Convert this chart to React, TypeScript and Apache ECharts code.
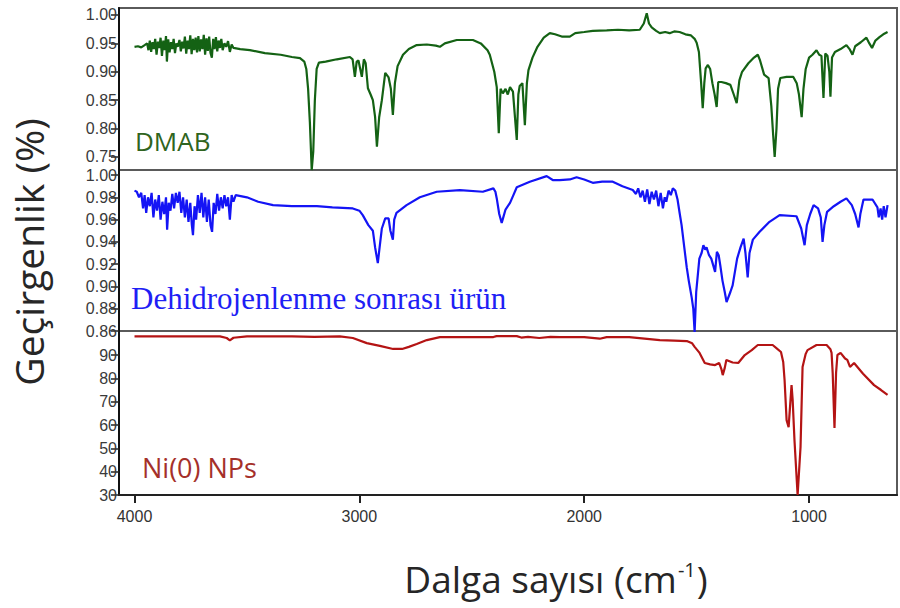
import React, { useEffect, useRef } from "react";
import * as echarts from "echarts";

// ---------- data (wavenumber cm-1, transmittance) ----------
const xTicks = [1000, 2000, 3000, 4000];
const topTicks = [0.75, 0.8, 0.85, 0.9, 0.95, 1.0];
const midTicks = [0.86, 0.88, 0.9, 0.92, 0.94, 0.96, 0.98, 1.0];
const botTicks = [30, 40, 50, 60, 70, 80, 90];

const seriesNames = ["DMAB", "Dehidrojenlenme sonrası ürün", "Ni(0) NPs"];

const dmab: number[][] = [
  [4000,0.944],[3985,0.945],[3970,0.943],[3955,0.947],
  [3944,0.950],[3938,0.938],[3932,0.955],[3926,0.935],[3920,0.952],[3914,0.940],[3908,0.958],[3902,0.930],[3896,0.953],[3890,0.942],[3884,0.960],[3878,0.928],[3872,0.955],[3866,0.938],[3860,0.963],[3856,0.918],[3850,0.957],[3844,0.934],[3838,0.952],[3832,0.940],[3826,0.958],[3820,0.933],[3814,0.950],[3808,0.944],[3800,0.956],[3794,0.936],[3788,0.953],[3782,0.941],[3776,0.962],[3770,0.932],[3764,0.955],[3758,0.940],[3752,0.964],[3746,0.931],[3740,0.958],[3734,0.938],[3728,0.960],[3722,0.934],[3716,0.963],[3710,0.936],[3704,0.957],[3698,0.940],[3692,0.965],[3686,0.930],[3680,0.959],[3674,0.937],[3668,0.962],[3662,0.933],[3656,0.925],[3650,0.958],[3644,0.940],[3638,0.961],[3632,0.936],[3626,0.955],[3620,0.942],[3614,0.958],[3608,0.938],[3600,0.950],[3592,0.944],[3584,0.954],[3576,0.935],[3568,0.948],[3560,0.942],
  [3530,0.940],[3487,0.938],[3420,0.933],[3350,0.930],[3300,0.926],[3264,0.924],[3245,0.918],[3236,0.905],[3228,0.870],[3220,0.810],[3212,0.727],[3205,0.760],[3198,0.850],[3190,0.905],[3180,0.916],[3150,0.918],[3100,0.922],[3042,0.926],[3030,0.922],[3020,0.891],[3012,0.918],[3004,0.920],[2989,0.891],[2980,0.922],[2972,0.915],[2962,0.871],[2950,0.860],[2940,0.850],[2930,0.820],[2922,0.768],[2912,0.820],[2900,0.850],[2885,0.898],[2870,0.890],[2860,0.870],[2851,0.824],[2842,0.880],[2830,0.910],[2806,0.930],[2780,0.940],[2745,0.947],[2700,0.948],[2660,0.946],[2642,0.944],[2620,0.950],[2567,0.956],[2495,0.956],[2460,0.950],[2430,0.938],[2420,0.930],[2400,0.900],[2389,0.873],[2380,0.792],[2372,0.870],[2362,0.862],[2350,0.870],[2340,0.860],[2330,0.873],[2317,0.865],[2300,0.780],[2293,0.860],[2287,0.875],[2275,0.880],[2264,0.806],[2255,0.880],[2248,0.903],[2230,0.925],[2208,0.944],[2180,0.960],[2153,0.968],[2130,0.966],[2100,0.962],[2064,0.962],[2040,0.968],[2000,0.970],[1962,0.972],[1900,0.973],[1850,0.974],[1800,0.973],[1753,0.974],[1735,0.985],[1722,1.003],[1712,0.985],[1700,0.978],[1680,0.972],[1664,0.968],[1640,0.970],[1620,0.968],[1600,0.971],[1576,0.970],[1550,0.966],[1525,0.964],[1509,0.958],[1500,0.951],[1490,0.935],[1480,0.880],[1473,0.836],[1466,0.880],[1460,0.906],[1450,0.912],[1440,0.905],[1430,0.880],[1420,0.860],[1411,0.838],[1404,0.882],[1390,0.882],[1370,0.880],[1350,0.877],[1335,0.860],[1322,0.845],[1310,0.885],[1298,0.900],[1270,0.915],[1245,0.925],[1228,0.930],[1218,0.920],[1200,0.895],[1180,0.889],[1168,0.840],[1160,0.790],[1153,0.750],[1145,0.800],[1138,0.870],[1128,0.889],[1100,0.891],[1070,0.891],[1055,0.880],[1045,0.860],[1033,0.820],[1025,0.870],[1015,0.905],[1000,0.925],[985,0.930],[967,0.938],[955,0.930],[945,0.928],[936,0.854],[928,0.932],[918,0.928],[910,0.900],[905,0.856],[898,0.925],[885,0.935],[860,0.940],[834,0.947],[820,0.940],[807,0.930],[795,0.945],[770,0.952],[745,0.960],[732,0.950],[720,0.942],[705,0.955],[687,0.961],[670,0.966],[651,0.970]
];

const product: number[][] = [
  [4000,0.986],[3990,0.985],[3980,0.980],
  [3970,0.984],[3962,0.970],[3955,0.982],[3948,0.966],[3940,0.980],[3932,0.972],[3924,0.984],[3916,0.962],[3908,0.978],[3900,0.968],[3892,0.982],[3884,0.960],[3876,0.976],[3868,0.965],[3860,0.980],[3855,0.951],[3848,0.975],[3840,0.968],[3832,0.983],[3824,0.970],[3816,0.984],[3808,0.975],[3800,0.985],[3792,0.966],[3784,0.980],[3776,0.962],[3768,0.978],[3760,0.958],[3752,0.975],[3745,0.955],[3740,0.946],[3733,0.972],[3726,0.960],[3718,0.982],[3710,0.966],[3702,0.984],[3694,0.962],[3686,0.980],[3678,0.958],[3670,0.978],[3662,0.955],[3655,0.949],[3648,0.975],[3640,0.965],[3632,0.983],[3624,0.968],[3616,0.980],[3608,0.970],[3600,0.982],[3592,0.972],[3584,0.980],[3576,0.960],[3568,0.982],[3560,0.976],[3550,0.982],
  [3500,0.980],[3450,0.976],[3384,0.973],[3300,0.972],[3189,0.972],[3120,0.971],[3029,0.970],[3000,0.968],[2985,0.964],[2960,0.955],[2940,0.950],[2930,0.935],[2918,0.921],[2910,0.935],[2900,0.952],[2885,0.961],[2870,0.961],[2862,0.950],[2851,0.942],[2845,0.960],[2835,0.966],[2790,0.973],[2731,0.980],[2656,0.985],[2553,0.9865],[2451,0.985],[2404,0.988],[2395,0.985],[2389,0.979],[2378,0.965],[2367,0.957],[2360,0.962],[2350,0.969],[2330,0.975],[2315,0.982],[2300,0.989],[2242,0.994],[2167,0.999],[2140,0.9955],[2109,0.9955],[2064,0.996],[2034,0.998],[2000,0.996],[1962,0.993],[1920,0.994],[1873,0.994],[1830,0.990],[1784,0.9865],
  [1770,0.983],[1760,0.988],[1750,0.980],[1740,0.986],[1730,0.976],[1720,0.987],[1710,0.974],[1700,0.985],[1690,0.978],[1680,0.986],[1670,0.972],[1660,0.984],[1650,0.970],[1642,0.980],[1635,0.976],[1625,0.986],[1615,0.982],[1606,0.988],[1595,0.986],[1585,0.978],[1575,0.965],[1567,0.955],[1555,0.935],[1544,0.917],[1535,0.905],[1522,0.890],[1515,0.880],[1509,0.859],[1502,0.895],[1495,0.910],[1488,0.925],[1478,0.930],[1470,0.937],[1462,0.933],[1456,0.935],[1445,0.928],[1435,0.925],[1425,0.918],[1418,0.913],[1410,0.931],[1402,0.928],[1395,0.919],[1385,0.905],[1375,0.895],[1367,0.886],[1350,0.895],[1340,0.901],[1320,0.925],[1305,0.935],[1291,0.943],[1283,0.930],[1273,0.908],[1265,0.930],[1250,0.942],[1220,0.949],[1176,0.958],[1131,0.964],[1056,0.963],[1035,0.952],[1020,0.937],[1010,0.955],[995,0.965],[980,0.973],[960,0.970],[948,0.962],[940,0.940],[932,0.955],[920,0.967],[890,0.972],[860,0.976],[834,0.979],[810,0.973],[795,0.965],[780,0.953],[772,0.965],[758,0.978],[718,0.978],[696,0.971],[690,0.962],[682,0.970],[675,0.960],[668,0.972],[660,0.962],[651,0.973]
];

const nickel: number[][] = [
  [4000,98.0],[3800,98.0],[3620,98.0],[3590,97.3],[3576,96.3],[3560,97.4],[3500,98.0],[3300,98.0],[3200,97.8],[3087,98.0],[3029,97.3],[2967,95.1],[2909,93.9],[2850,92.6],[2810,92.6],[2780,93.5],[2745,94.7],[2700,96.4],[2642,97.7],[2404,97.7],[2390,98.1],[2300,98.1],[2280,97.5],[2250,97.8],[2200,97.3],[2150,97.8],[2109,97.7],[2000,97.7],[1931,97.0],[1900,97.7],[1800,97.7],[1664,96.4],[1600,96.2],[1544,96.0],[1520,95.0],[1509,93.5],[1487,90.9],[1464,86.6],[1440,86.0],[1418,85.7],[1400,86.6],[1390,84.0],[1384,81.4],[1375,84.5],[1368,87.9],[1340,86.8],[1315,86.6],[1286,90.0],[1255,92.1],[1228,94.3],[1162,94.3],[1140,92.5],[1125,91.3],[1115,87.0],[1109,79.3],[1100,62.1],[1091,59.1],[1078,77.1],[1073,70.7],[1065,53.6],[1051,30.0],[1038,50.6],[1029,84.9],[1015,90.5],[1007,92.1],[967,94.3],[922,94.3],[905,92.5],[900,90.9],[895,82.3],[887,58.7],[880,82.3],[874,90.0],[860,90.9],[840,88.5],[830,87.9],[818,84.9],[800,86.6],[760,82.0],[711,77.1],[680,75.0],[651,72.9]
];

// ---------- component ----------
export default function App() {
  const ref = useRef<HTMLDivElement>(null);
  useEffect(() => {
    document.body.style.margin = "0";
    if (!ref.current) return;
    const chart = echarts.init(ref.current, null, { renderer: "svg" });

    const gridLeft = 119;
    const gridW = 778;
    const grids = [
      { top: 8, height: 162 },
      { top: 170, height: 161 },
      { top: 331, height: 164 },
    ];
    const yRanges = [
      { min: 0.7271, max: 1.0123, ticks: topTicks, fmt: (v: number) => v.toFixed(2) },
      { min: 0.86, max: 1.0045, ticks: midTicks, fmt: (v: number) => v.toFixed(2) },
      { min: 30, max: 100.3, ticks: botTicks, fmt: (v: number) => String(Math.round(v)) },
    ];
    const colors = ["#146214", "#1414f5", "#b41414"];
    const datasets = [dmab, product, nickel];
    const labelFont = "Liberation Sans";

    const option: any = {
      animation: false,
      backgroundColor: "#ffffff",
      grid: grids.map((g) => ({
        left: gridLeft,
        width: gridW,
        top: g.top,
        height: g.height,
        show: true,
        borderColor: "#5a5a5a",
        borderWidth: 2,
        backgroundColor: "transparent",
      })),
      xAxis: grids.map((_, i) => ({
        gridIndex: i,
        type: "value",
        inverse: true,
        min: 609,
        max: 4069,
        show: i === 2,
        splitLine: { show: false },
        axisLine: { show: true, onZero: false, lineStyle: { color: "#222", width: 2 } },
        axisTick: {
          show: true,
          customValues: xTicks,
          length: 8,
          lineStyle: { color: "#222", width: 2 },
        },
        axisLabel: {
          customValues: xTicks,
          formatter: (v: number) => String(v),
          fontSize: 16,
          color: "#333",
          fontFamily: labelFont,
          margin: 13,
        },
      })),
      yAxis: yRanges.map((r, i) => ({
        gridIndex: i,
        type: "value",
        min: r.min,
        max: r.max,
        splitLine: { show: false },
        axisLine: { show: true, onZero: false, lineStyle: { color: "#111", width: 2 } },
        axisTick: {
          show: true,
          customValues: r.ticks,
          length: 8,
          lineStyle: { color: "#222", width: 1.5 },
        },
        axisLabel: {
          customValues: r.ticks,
          formatter: r.fmt,
          fontSize: 16,
          color: "#3a3a3a",
          fontFamily: labelFont,
          margin: 2,
        },
      })),
      series: datasets.map((d, i) => ({
        name: seriesNames[i],
        type: "line",
        xAxisIndex: i,
        yAxisIndex: i,
        data: d,
        showSymbol: false,
        symbol: "none",
        clip: true,
        lineStyle: { color: colors[i], width: 2.2 },
      })),
      graphic: [
        {
          type: "text",
          x: 135,
          y: 141,
          style: {
            text: seriesNames[0],
            font: '26px "Open Sans"',
            fill: "#2f6420",
            verticalAlign: "middle",
            align: "left",
          },
        },
        {
          type: "text",
          x: 131,
          y: 298,
          style: {
            text: seriesNames[1],
            font: '31px "Liberation Serif"',
            fill: "#1f1ff5",
            verticalAlign: "middle",
            align: "left",
          },
        },
        {
          type: "text",
          x: 142,
          y: 467,
          style: {
            text: seriesNames[2],
            font: '27px "Open Sans"',
            fill: "#a5302a",
            verticalAlign: "middle",
            align: "left",
          },
        },
        {
          type: "text",
          x: 28,
          y: 252,
          rotation: Math.PI / 2,
          style: {
            text: "Geçirgenlik (%)",
            font: '39px "Open Sans"',
            fill: "#262626",
            align: "center",
            verticalAlign: "middle",
          },
        },
        {
          type: "text",
          x: 556,
          y: 578,
          style: {
            text: "{a|Dalga sayısı (cm}{s|-1}{a|)}",
            align: "center",
            verticalAlign: "middle",
            fill: "#262626",
            rich: {
              a: { fontSize: 37, fontFamily: "Open Sans", fill: "#262626" },
              s: {
                fontSize: 20,
                fontFamily: "Open Sans",
                fill: "#262626",
                verticalAlign: "top",
                lineHeight: 37,
                padding: [0, 1, 18, 1],
              },
            },
          },
        },
      ],
    };
    chart.setOption(option);
    return () => chart.dispose();
  }, []);
  return <div ref={ref} style={{ width: 900, height: 608 }} />;
}
